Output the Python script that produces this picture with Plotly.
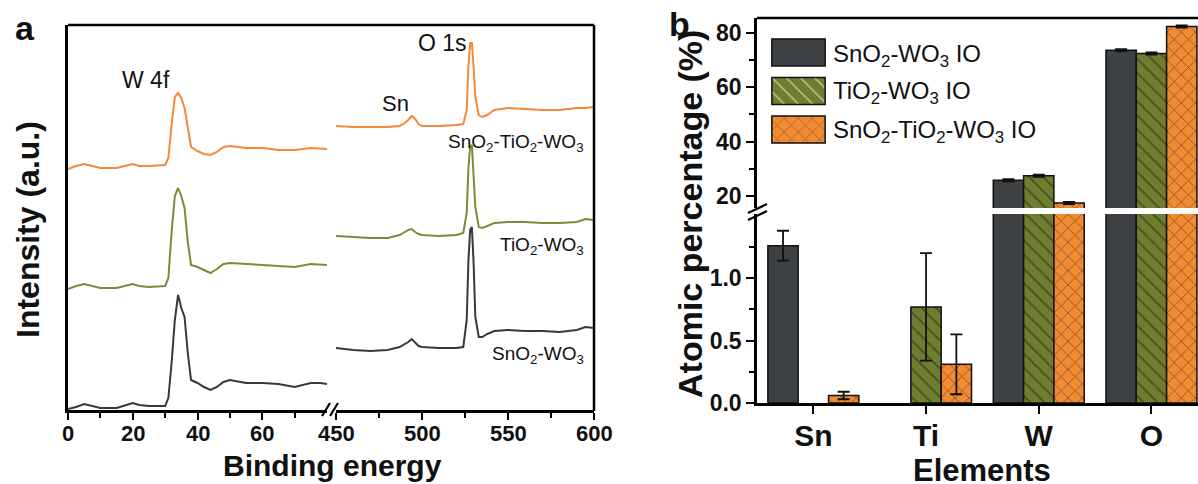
import plotly.graph_objects as go

W, H = 1198, 484


def px(x):
    return x / W


def py(y):
    return 1 - y / H


FONT = "Liberation Sans, Arial, sans-serif"

# ---------------- Panel a: XPS survey (intensity in a.u.) ----------------
energy_low = [0, 2.5, 5, 7.5, 10, 15, 20, 22, 25, 30, 31, 32, 33, 34, 35, 36, 37, 38,
              40, 42, 44, 46, 48, 50, 55, 60, 65, 70, 75, 78, 80]
energy_high = [450, 460, 470, 480, 487, 490, 492, 494, 496, 498, 500, 510, 520, 524, 526,
               527, 528, 529, 530, 531, 533, 535, 538, 542, 550, 560, 570, 580, 590, 595, 600]

sno2_wo3_low = [1, 3, 6, 4, 2, 2, 7, 5, 4, 4, 12, 47, 90, 115, 102, 93, 57, 30,
                27, 23, 20, 23, 28, 30, 27, 27, 26, 23, 27, 27, 26]
tio2_wo3_low = [121, 124, 126, 124, 122, 122, 126, 124, 123, 124, 132, 178, 214, 222, 214, 202, 168, 145,
                143, 140, 137, 141, 146, 147, 146, 145, 144, 143, 146, 145, 145]
ternary_low = [241, 244, 246, 244, 242, 242, 246, 244, 244, 245, 252, 285, 313, 317, 312, 302, 282, 263,
               259, 256, 255, 258, 263, 264, 262, 262, 260, 260, 262, 261, 261]

sno2_wo3_high = [62, 60, 59, 60, 63, 66, 68, 71, 67, 64, 63, 62, 62, 63, 90,
                 150, 180, 183, 147, 93, 73, 73, 76, 79, 80, 79, 79, 78, 80, 83, 82]
tio2_wo3_high = [174, 173, 172, 172, 175, 178, 180, 181, 178, 176, 175, 174, 175, 177, 197,
                 243, 263, 265, 237, 203, 183, 182, 184, 187, 188, 188, 187, 187, 188, 191, 190]
ternary_high = [284, 283, 283, 283, 284, 287, 290, 294, 291, 286, 284, 284, 285, 286, 300,
                343, 367, 367, 343, 313, 295, 293, 295, 300, 302, 301, 300, 300, 302, 302, 303]

low_ticks = [0, 20, 40, 60]
low_tick_text = ["0", "20", "40", "60"]
low_minor = [10, 30, 50, 70]
high_ticks = [450, 500, 550, 600]
high_tick_text = ["450", "500", "550", "600"]
high_minor = [475, 525, 575]

sample_labels = ["SnO<sub>2</sub>-WO<sub>3</sub>", "TiO<sub>2</sub>-WO<sub>3</sub>",
                 "SnO<sub>2</sub>-TiO<sub>2</sub>-WO<sub>3</sub>"]

# ---------------- Panel b: atomic percentage ----------------
elements = ["Sn", "Ti", "W", "O"]
series_names = ["SnO<sub>2</sub>-WO<sub>3</sub> IO", "TiO<sub>2</sub>-WO<sub>3</sub> IO",
                "SnO<sub>2</sub>-TiO<sub>2</sub>-WO<sub>3</sub> IO"]
sno2_wo3_pct = [1.26, None, 25.8, 73.6]
sno2_wo3_err = [0.12, None, 0.4, 0.4]
tio2_wo3_pct = [None, 0.77, 27.5, 72.4]
tio2_wo3_err = [None, 0.43, 0.4, 0.4]
ternary_pct = [0.06, 0.31, 17.4, 82.4]
ternary_err = [0.03, 0.24, 0.4, 0.4]

low_pct_ticks = [0, 0.5, 1.0]
low_pct_labels = ["0.0", "0.5", "1.0"]
low_pct_minor = [0.25, 0.75, 1.25]
high_pct_ticks = [20, 40, 60, 80]
high_pct_minor = [30, 50, 70]

line_colors = ["#383838", "#7b8b3a", "#f5883a"]
bar_colors = ["#3e4144", "#6f7e2e", "#f28a32"]
bar_patterns = ["", "\\", "x"]

fig = go.Figure()

lows = [sno2_wo3_low, tio2_wo3_low, ternary_low]
highs = [sno2_wo3_high, tio2_wo3_high, ternary_high]
for lo, hi, c in zip(lows, highs, line_colors):
    fig.add_trace(go.Scatter(x=energy_low, y=lo, xaxis="x", yaxis="y", mode="lines",
                             line=dict(color=c, width=2), showlegend=False, hoverinfo="skip"))
    fig.add_trace(go.Scatter(x=energy_high, y=hi, xaxis="x2", yaxis="y", mode="lines",
                             line=dict(color=c, width=2), showlegend=False, hoverinfo="skip"))

vals = [sno2_wo3_pct, tio2_wo3_pct, ternary_pct]
errs = [sno2_wo3_err, tio2_wo3_err, ternary_err]
pat = dict(fgcolor="#1a1a1a", size=10, solidity=0.16)
for yax in ["y3", "y4"]:
    for i in range(3):
        fig.add_trace(go.Bar(
            x=elements, y=vals[i], xaxis="x3", yaxis=yax, offsetgroup=str(i),
            marker=dict(color=bar_colors[i], line=dict(color="#111111", width=1.5),
                        pattern=dict(shape=bar_patterns[i], **pat)),
            error_y=dict(type="data", array=errs[i], color="#111111", thickness=1.8, width=6),
            showlegend=False, hoverinfo="skip"))

# legend swatches
fig.add_trace(go.Bar(
    x=[1, 1, 1], y=[0, 1, 2], orientation="h", xaxis="x4", yaxis="y5", width=0.70,
    marker=dict(color=bar_colors, line=dict(color="#111111", width=1.5),
                pattern=dict(shape=bar_patterns, **pat)),
    showlegend=False, hoverinfo="skip"))

axis_common = dict(showline=True, linecolor="black", linewidth=2.5, showgrid=False,
                   zeroline=False, ticks="outside", tickcolor="black", tickwidth=2,
                   automargin=False)
tfb = dict(family=FONT, size=23, color="#111111", weight="bold")

fig.update_layout(
    width=W, height=H, autosize=False,
    margin=dict(l=0, r=0, t=0, b=0, pad=0, autoexpand=False),
    paper_bgcolor="white", plot_bgcolor="rgba(0,0,0,0)",
    barmode="group", bargap=0.193, bargroupgap=0,
    xaxis=dict(domain=[px(68), px(327)], range=[0, 80], anchor="y", tickmode="array",
               tickvals=low_ticks, showticklabels=False, ticklen=7,
               minor=dict(tickvals=low_minor, ticks="outside", ticklen=5, tickwidth=2,
                          tickcolor="black"), **axis_common),
    xaxis2=dict(domain=[px(336), px(594)], range=[450, 600], anchor="y", tickmode="array",
                tickvals=high_ticks, showticklabels=False, ticklen=7,
                minor=dict(tickvals=high_minor, ticks="outside", ticklen=5, tickwidth=2,
                           tickcolor="black"), **axis_common),
    yaxis=dict(domain=[py(410), py(25)], range=[0, 385], anchor="x", showline=True,
               linecolor="black", linewidth=2.5, showgrid=False, zeroline=False,
               showticklabels=False, ticks="", automargin=False),
    xaxis3=dict(domain=[px(757), 1], range=[-0.5, 3.413], anchor="y3", type="category",
                ticklen=8, tickfont=dict(family=FONT, size=30, color="#111111", weight="bold"),
                ticklabelstandoff=-4, **axis_common),
    yaxis3=dict(domain=[py(403), py(214)], range=[0, 1.514], anchor="x3",
                tickvals=low_pct_ticks, ticktext=low_pct_labels, ticklen=8, tickfont=tfb,
                minor=dict(tickvals=low_pct_minor, ticks="outside", ticklen=5, tickwidth=2,
                           tickcolor="black"), **axis_common),
    yaxis4=dict(domain=[py(208), py(18)], range=[15.6, 85.5], anchor="x3",
                tickvals=high_pct_ticks, ticklen=8, tickfont=tfb,
                minor=dict(tickvals=high_pct_minor, ticks="outside", ticklen=5, tickwidth=2,
                           tickcolor="black"), **axis_common),
    xaxis4=dict(domain=[px(770), px(827)], range=[-0.035, 1.035], anchor="y5", visible=False,
                automargin=False),
    yaxis5=dict(domain=[py(148.75), py(33.25)], range=[2.5, -0.5], anchor="x4", visible=False,
                automargin=False),
)

shapes = []
def line(x0, y0, x1, y1, w=2.5):
    shapes.append(dict(type="line", xref="paper", yref="paper", x0=px(x0), y0=py(y0),
                       x1=px(x1), y1=py(y1), line=dict(color="black", width=w)))

line(68, 25, 594, 25)
line(594, 25, 594, 411)
line(757, 18, 1198, 18)
# axis break marks
line(322, 416, 330, 403, 2.2)
line(330, 416, 338, 403, 2.2)
line(748, 213, 767, 204, 2.2)
line(748, 220, 767, 211, 2.2)
fig.update_layout(shapes=shapes)

ann = []
def text(x, y, s, size, bold=False, xanchor="center", yanchor="middle", angle=0):
    ann.append(dict(x=px(x), y=py(y), xref="paper", yref="paper", text=s, showarrow=False,
                    xanchor=xanchor, yanchor=yanchor, textangle=angle,
                    font=dict(family=FONT, size=size, color="#111111",
                              weight="bold" if bold else "normal")))

# panel a tick labels, positioned through the x axes
for axref, tv, tt in [("x", low_ticks, low_tick_text), ("x2", high_ticks, high_tick_text)]:
    for v, t in zip(tv, tt):
        ann.append(dict(x=v, y=py(433), xref=axref, yref="paper", text=t, showarrow=False,
                        xanchor="center", yanchor="middle",
                        font=dict(family=FONT, size=22, color="#111111", weight="bold")))

text(25, 28, "a", 34, True)
text(679, 24, "b", 34, True)
text(28, 230, "Intensity (a.u.)", 32, True, angle=-90)
text(332, 465, "Binding energy", 30, True)
text(690, 214, "Atomic percentage (%)", 34, True, angle=-90)
text(982, 470, "Elements", 31, True)
text(146, 80, "W 4f", 23)
text(442, 43, "O 1s", 23)
text(395, 104, "Sn", 22)
text(586, 355, sample_labels[0], 19, xanchor="right")
text(586, 246, sample_labels[1], 19, xanchor="right")
text(586, 143, sample_labels[2], 19, xanchor="right")
for name, yc in zip(series_names, [55, 93, 131]):
    text(831, yc, name, 24, xanchor="left")
fig.update_layout(annotations=ann)

fig.write_html("out.html")
